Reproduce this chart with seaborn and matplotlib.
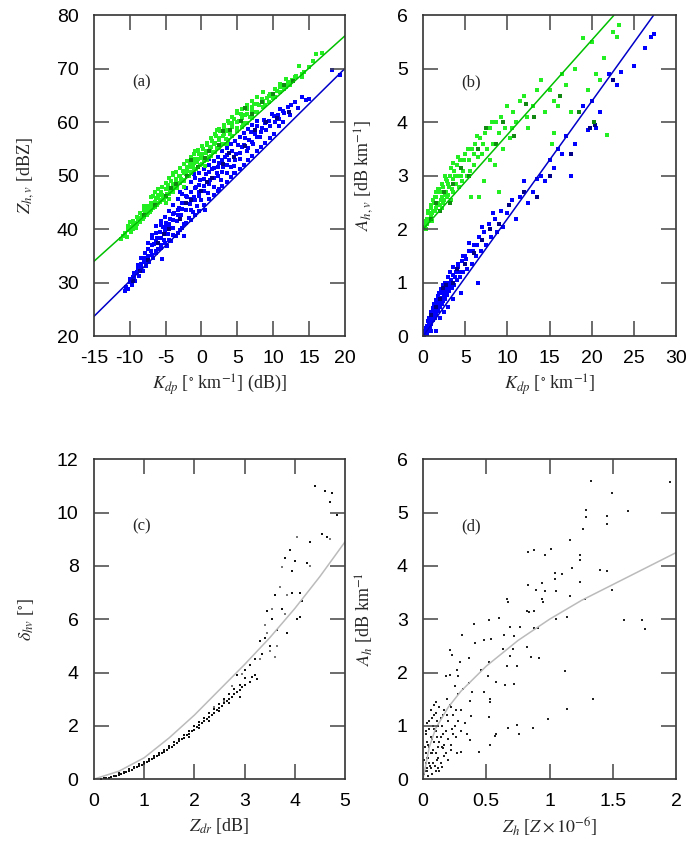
import pandas as pd
import seaborn as sns
import matplotlib.pyplot as plt
from matplotlib.ticker import FuncFormatter, MultipleLocator

# ---------------- data ----------------
# (a) Z vs Kdp
a_green = [(-11.2,38.2),(-10.9,38.8),(-10.6,39.3),(-10.4,38.6),(-10.1,40.1),(-9.8,39.5),(-9.6,40.8),(-9.3,41.2),
           (-9.1,40.3),(-8.8,42.0),(-8.6,41.4),(-8.3,42.6),(-8.1,41.9),(-7.9,43.4),(-7.6,42.7),(-7.4,44.0),
           (-7.2,43.2),(-7.0,45.0),(-6.8,43.9),(-6.6,44.8),(-6.4,45.8),(-6.2,44.5),(-6.0,46.4),(-5.8,45.2),
           (-5.6,47.0),(-5.4,46.0),(-5.2,45.5),(-5.0,47.6),(-4.8,46.6),(-4.6,48.3),(-4.4,47.2),(-4.2,49.0),
           (-4.0,46.9),(-3.8,48.0),(-3.6,49.4),(-3.4,47.8),(-3.2,50.0),(-3.0,48.6),(-2.8,49.5),(-2.6,51.0),
           (-2.4,49.0),(-2.2,50.4),(-2.0,51.6),(-1.8,49.9),(-1.6,52.3),(-1.4,50.7),(-1.2,51.8),(-1.0,53.2),
           (-0.8,51.2),(-0.6,52.6),(-0.4,54.0),(-0.2,52.0),(0.0,53.4),(0.2,55.0),(0.4,52.8),(0.6,54.3),
           (0.8,55.8),(1.0,53.6),(1.2,55.0),(1.4,56.6),(1.6,54.4),(1.8,55.9),(2.0,57.4),(2.2,55.2),
           (2.4,56.7),(2.6,58.3),(2.8,56.0),(3.0,57.5),(3.2,59.0),(3.4,56.9),(3.6,58.4),(3.8,59.8),
           (4.0,57.8),(4.3,59.2),(4.6,60.6),(4.9,58.9),(5.2,60.2),(5.5,61.6),(5.8,59.9),(6.1,61.3),
           (6.4,62.5),(6.7,61.0),(7.0,62.3),(7.3,63.5),(7.6,62.0),(8.0,63.3),(8.4,64.4),(8.8,63.2),
           (9.2,64.5),(9.6,65.3),(10.0,64.6),(10.5,65.8),(11.0,66.6),(11.5,66.2),(12.0,67.4),(12.6,68.0),
           (13.2,68.6),(13.6,70.6),(14.3,69.4),(15.0,70.3),(16.0,72.8),(16.8,73.0),(-4.5,45.7),(-2.5,47.9),
           (0.5,51.8),(3.5,55.9),(-6.8,46.2),(-3.9,50.6),(-0.9,54.6),(2.1,58.6),(5.0,62.1),
           (-10.7,39.0),(-10.3,39.8),(-10.3,40.6),(-9.9,40.4),(-9.9,41.3),(-9.5,41.6),(-9.5,40.0),(-9.0,41.0),
           (-9.0,42.3),(-8.5,41.8),(-8.5,43.0),(-8.5,42.2),(-8.0,42.3),(-8.0,43.6),(-8.0,44.3),(-7.5,43.1),
           (-7.5,44.4),(-7.5,43.6),(-7.0,43.7),(-7.0,44.3),(-7.0,46.0),(-6.5,44.2),(-6.5,45.2),(-6.5,46.9),
           (-6.0,44.9),(-6.0,45.8),(-6.0,47.6),(-5.5,45.4),(-5.5,46.4),(-5.5,48.0),(-5.0,46.0),(-5.0,48.7),
           (-5.0,45.0),(-4.5,46.6),(-4.5,47.7),(-4.5,49.6),(-4.0,47.4),(-4.0,48.5),(-4.0,50.2),(-3.5,48.0),
           (-3.5,49.0),(-3.5,50.8),(-3.0,48.6),(-3.0,49.9),(-3.0,51.4),(-2.5,49.3),(-2.5,50.6),(-2.5,52.2),
           (-2.0,50.0),(-2.0,51.0),(-2.0,52.8),(-1.5,50.6),(-1.5,51.6),(-1.5,53.5),(-1.0,51.1),(-1.0,52.4),
           (-1.0,54.0),(-0.5,51.7),(-0.5,53.2),(-0.5,54.8),(0.1,52.3),(0.1,54.0),(0.1,55.6),(0.7,53.0),
           (0.7,54.6),(0.7,56.2),(1.3,53.7),(1.3,55.4),(1.3,57.0),(1.9,54.5),(1.9,56.2),(1.9,57.8),
           (2.5,55.2),(2.5,57.0),(2.5,58.8),(3.1,56.0),(3.1,57.9),(3.1,59.5),(3.7,56.8),(3.7,58.5),
           (3.7,60.2),(4.3,57.5),(4.3,59.8),(4.3,61.0),(4.9,58.3),(4.9,60.0),(4.9,61.8),(5.6,59.1),
           (5.6,60.8),(5.6,62.6),(6.3,59.9),(6.3,61.6),(6.3,63.2),(7.0,60.8),(7.0,62.8),(7.0,64.0),
           (7.8,61.9),(7.8,63.5),(7.8,64.8),(8.6,62.8),(8.6,64.0),(8.6,65.7),(9.4,63.8),(9.4,65.0),
           (10.2,64.8),(10.2,66.2),(11.0,65.6),(11.0,67.2),(11.8,66.6),(11.8,68.2),(12.4,67.6),(12.4,67.0),
           (13.0,68.4),(14.0,69.0),(14.0,68.4),(15.5,71.4)]
a_green_dark = [(-8.0,42.6),(-6.5,44.6),(-5.0,46.3),(-3.5,48.5),(-2.0,50.0),(-0.5,51.6),(1.0,54.6),(2.5,55.8),
                (4.0,58.6),(5.5,60.3),(7.0,61.6),(8.5,63.8),(10.0,65.4),(11.5,67.0),(-1.5,52.9),(3.0,58.4),
                (6.0,62.7),(-4.2,47.7),(12.8,67.8),(0.5,53.3)]
a_blue = [(-10.7,28.4),(-10.5,29.2),(-10.2,28.9),(-10.0,30.1),(-9.7,29.6),(-9.5,31.0),(-9.2,30.4),(-9.0,32.0),
          (-8.7,31.3),(-8.5,33.0),(-8.2,32.2),(-8.0,34.0),(-7.8,33.1),(-7.5,35.0),(-7.3,33.8),(-7.0,36.0),
          (-6.8,34.6),(-6.6,37.2),(-6.4,35.5),(-6.2,38.4),(-6.0,36.3),(-5.8,39.5),(-5.6,37.1),(-5.4,40.4),
          (-5.2,38.0),(-5.0,41.2),(-4.8,36.9),(-4.6,39.2),(-4.4,42.0),(-4.2,37.8),(-4.0,40.3),(-3.8,43.0),
          (-3.6,38.8),(-3.4,41.5),(-3.2,44.0),(-3.0,39.9),(-2.8,42.6),(-2.6,45.0),(-2.4,41.0),(-2.2,43.7),
          (-2.0,46.0),(-1.8,42.1),(-1.6,44.8),(-1.4,47.0),(-1.2,43.3),(-1.0,46.0),(-0.8,48.0),(-0.6,44.4),
          (-0.4,47.0),(-0.2,49.2),(0.0,45.5),(0.3,48.1),(0.6,50.3),(0.9,46.8),(1.2,49.3),(1.5,51.3),
          (1.8,48.0),(2.1,50.5),(2.4,52.4),(2.7,49.3),(3.0,51.7),(3.3,53.5),(3.6,50.5),(3.9,52.9),
          (4.2,54.6),(4.5,51.9),(4.8,54.1),(5.1,55.8),(5.4,53.2),(5.7,55.4),(6.0,57.0),(6.3,54.6),
          (6.6,56.7),(6.9,58.2),(7.2,55.9),(7.5,57.9),(7.8,59.4),(8.1,57.3),(8.4,59.0),(8.7,60.5),
          (9.0,58.6),(9.4,60.2),(9.8,61.6),(10.2,60.0),(10.6,61.4),(11.0,62.6),(11.5,61.8),(12.0,62.8),
          (12.5,63.3),(13.0,63.9),(14.0,64.8),(15.0,64.3),(18.2,69.8),(19.3,68.8),(-1.0,50.4),(1.0,53.2),
          (3.0,56.0),(-3.0,47.0),(5.0,58.5),(-5.5,34.5),(-2.5,38.8),(0.5,43.6),(2.5,47.6),(4.5,50.5),
          (-9.9,30.8),(-9.4,31.8),(-9.4,31.0),(-8.9,32.6),(-8.9,33.4),(-8.4,33.6),(-8.4,34.6),(-8.4,32.8),
          (-7.9,33.8),(-7.9,35.5),(-7.9,34.6),(-7.4,34.6),(-7.4,36.4),(-7.4,37.5),(-6.9,35.2),(-6.9,37.0),
          (-6.9,38.3),(-6.9,39.0),(-6.3,36.0),(-6.3,37.8),(-6.3,39.3),(-6.3,40.6),(-5.7,36.6),(-5.7,38.4),
          (-5.7,40.8),(-5.7,41.6),(-5.1,37.4),(-5.1,39.6),(-5.1,42.4),(-5.1,40.5),(-4.5,38.0),(-4.5,41.0),
          (-4.5,43.4),(-4.5,40.2),(-3.9,38.9),(-3.9,41.8),(-3.9,44.5),(-3.9,42.8),(-3.3,39.4),(-3.3,42.6),
          (-3.3,45.6),(-3.3,43.6),(-2.7,40.3),(-2.7,43.8),(-2.7,46.7),(-2.7,44.9),(-2.1,41.1),(-2.1,44.9),
          (-2.1,47.8),(-2.1,46.3),(-1.5,41.8),(-1.5,45.6),(-1.5,48.8),(-1.5,43.7),(-0.9,42.6),(-0.9,45.4),
          (-0.9,49.6),(-0.9,47.8),(-0.3,43.4),(-0.3,46.2),(-0.3,50.6),(-0.3,48.3),(0.4,44.6),(0.4,47.2),
          (0.4,51.2),(0.4,49.4),(1.1,45.6),(1.1,48.4),(1.1,52.0),(1.1,50.8),(1.7,46.4),(1.7,49.6),
          (1.7,52.8),(1.7,51.4),(2.3,47.2),(2.3,50.0),(2.3,53.6),(2.3,51.6),(2.9,48.1),(2.9,50.8),
          (2.9,54.6),(2.9,52.9),(3.5,48.9),(3.5,52.1),(3.5,55.2),(3.5,53.9),(4.1,49.7),(4.1,51.6),
          (4.1,55.9),(4.7,50.5),(4.7,53.0),(4.7,56.6),(5.3,51.3),(5.3,54.3),(5.3,57.2),(5.9,52.1),
          (5.9,55.7),(5.9,58.1),(6.5,52.9),(6.5,55.2),(6.5,58.8),(7.1,53.8),(7.1,56.4),(7.1,59.6),
          (7.7,54.6),(7.7,57.2),(7.7,60.2),(8.3,55.4),(8.3,58.2),(8.9,56.2),(8.9,59.8),(9.5,57.0),
          (9.5,59.4),(10.1,57.8),(10.1,61.2),(10.8,59.3),(10.8,60.6),(11.4,60.1),(11.4,62.2),(12.3,61.3),
          (13.5,62.7),(14.5,64.2)]
a_blue_dark = [(-7.5,34.2),(-6.0,37.4),(-4.5,40.0),(-3.0,42.0),(-1.5,45.5),(0.0,47.2),(1.5,49.6),(3.0,52.3),
               (4.5,53.6),(6.0,55.6),(7.5,58.6),(9.0,60.0),(-5.2,39.2),(-2.2,44.9),(0.8,48.8),(3.8,54.3),
               (10.5,60.8),(12.2,62.0),(-8.5,32.2),(-9.5,30.3)]
a_green_fit_x = [-15, 20]
a_green_fit_y = [34.0, 76.2]
a_blue_fit_x = [-15, 20]
a_blue_fit_y = [23.7, 70.1]

# (b) A vs Kdp
b_green = [(0.2,2.05),(0.4,2.1),(0.5,2.2),(0.7,2.15),(0.8,2.3),(1.0,2.25),(1.0,2.4),(1.2,2.35),(1.3,2.5),
           (1.5,2.4),(1.6,2.6),(1.8,2.5),(2.0,2.45),(2.0,2.7),(2.2,2.6),(2.4,2.8),(2.5,2.55),(2.7,2.7),
           (2.8,2.9),(3.0,2.65),(3.0,2.85),(3.2,3.0),(3.4,2.75),(3.5,2.95),(3.7,3.1),(3.9,2.85),(4.0,3.2),
           (4.2,3.0),(4.4,3.3),(4.6,2.9),(4.8,3.1),(5.0,3.4),(5.2,3.0),(5.5,3.3),(5.8,3.5),(6.0,3.2),
           (6.2,3.6),(6.5,3.35),(6.8,3.7),(7.0,3.4),(7.3,3.8),(7.6,3.5),(8.0,3.9),(8.3,3.6),(8.7,4.0),
           (9.0,3.8),(9.3,4.1),(9.7,3.9),(10.0,4.3),(10.3,3.7),(10.7,4.2),(11.0,4.0),(11.5,4.4),(12.0,4.5),
           (12.3,4.1),(13.0,4.3),(13.5,4.6),(14.0,4.8),(14.5,4.2),(15.0,4.6),(15.5,4.4),(16.0,4.3),
           (16.5,4.9),(17.0,4.7),(17.5,4.2),(18.0,5.0),(19.0,5.57),(19.5,4.6),(20.0,5.5),(20.5,4.9),
           (21.0,4.8),(21.5,5.2),(21.8,3.76),(22.5,5.7),(23.2,5.83),(23.0,5.6),(6.6,2.6),(7.2,2.9),
           (9.0,2.7),(5.7,2.6),(8.5,3.2),(12.5,3.9),(15.3,3.6),(15.5,3.8),(0.3,2.0),(0.6,2.3),(1.1,2.15),
           (1.4,2.6),(1.9,2.75),(2.3,2.4),(2.6,3.0),(3.3,2.55),(3.6,3.25),
           (0.1,2.02),(0.3,2.15),(0.5,2.1),(0.6,2.35),(0.8,2.2),(0.9,2.45),(1.1,2.3),(1.2,2.55),(1.4,2.35),
           (1.5,2.7),(1.7,2.45),(1.8,2.75),(2.1,2.55),(2.2,2.85),(2.4,2.5),(2.6,2.65),(2.7,2.95),(2.9,2.6),
           (3.1,2.8),(3.3,3.15),(3.5,2.7),(3.8,3.0),(4.1,3.35),(4.3,2.8),(4.5,3.0),(4.9,3.3),(5.3,3.5),
           (5.6,3.1),(6.1,3.4),(6.4,3.75),(7.1,3.6),(7.9,3.3),(8.2,4.0),(9.5,3.5),(10.5,3.9)]
b_green_dark = [(1.5,2.5),(2.5,2.7),(3.5,2.85),(4.5,3.15),(5.5,3.0),(6.5,3.5),(7.5,3.9),(8.6,3.6),(9.5,4.0),
                (10.8,3.75),(12.2,4.35),(13.2,4.1),(16.2,4.5),(18.5,4.2),(20.3,4.0),(3.2,2.5),(1.0,2.2),(2.0,2.35)]
b_blue = [(0.1,0.02),(0.2,0.08),(0.3,0.05),(0.4,0.12),(0.5,0.2),(0.6,0.1),(0.7,0.25),(0.8,0.18),(0.9,0.3),
          (1.0,0.22),(1.1,0.38),(1.2,0.3),(1.3,0.45),(1.4,0.35),(1.5,0.5),(1.6,0.42),(1.7,0.6),(1.8,0.48),
          (1.9,0.65),(2.0,0.55),(2.1,0.72),(2.2,0.6),(2.3,0.8),(2.4,0.66),(2.5,0.85),(2.6,0.7),(2.8,0.9),
          (2.9,0.78),(3.0,1.0),(3.1,0.84),(3.3,1.05),(3.4,0.9),(3.6,1.15),(3.7,0.95),(3.9,1.2),(4.0,1.05),
          (4.2,1.3),(4.4,1.1),(4.6,1.4),(4.8,1.2),(5.0,1.5),(5.2,1.25),(5.5,1.6),(5.8,1.35),(6.0,1.7),
          (6.3,1.5),(6.6,1.85),(6.9,1.6),(7.2,1.95),(7.5,1.7),(7.8,2.1),(8.1,1.85),(8.5,2.2),(8.8,1.95),
          (9.2,2.35),(9.5,2.05),(10.0,2.3),(10.5,2.55),(11.0,2.2),(11.5,2.6),(12.0,2.9),(12.5,2.5),
          (13.0,2.7),(13.5,2.95),(14.0,3.0),(14.5,2.9),(15.0,3.3),(15.5,3.15),(16.0,3.5),(16.5,3.4),
          (17.0,3.75),(17.5,3.0),(18.0,3.6),(19.0,4.3),(19.5,3.85),(20.0,4.4),(20.5,3.9),(21.0,4.2),
          (22.0,4.9),(23.0,4.7),(23.5,4.95),(25.0,5.05),(26.3,5.4),(27.0,5.6),(27.4,5.65),(1.5,0.1),
          (3.0,0.55),(4.5,0.8),(6.5,1.0),(0.5,0.05),(1.0,0.1),(2.0,0.35),(2.5,0.45),(3.5,0.7),
          (0.15,0.1),(0.35,0.15),(0.45,0.06),(0.55,0.28),(0.65,0.18),(0.75,0.35),(0.85,0.25),(0.95,0.45),
          (1.05,0.3),(1.15,0.52),(1.25,0.38),(1.35,0.6),(1.45,0.45),(1.55,0.68),(1.65,0.52),(1.75,0.75),
          (1.85,0.6),(1.95,0.8),(2.05,0.62),(2.15,0.88),(2.25,0.7),(2.35,0.95),(2.55,0.78),(2.65,1.0),
          (2.85,0.82),(2.95,1.1),(3.15,0.92),(3.25,1.2),(3.45,1.0),(3.55,1.3),(3.8,1.1),(4.1,1.35),
          (4.3,1.2),(4.7,1.5),(5.1,1.45),(5.4,1.75),(5.9,1.6),(6.4,1.7),(7.0,2.05),(8.3,2.3)]
b_blue_dark = [(1.0,0.4),(2.0,0.7),(2.7,0.95),(3.5,1.0),(4.0,1.25),(5.0,1.35),(6.0,1.55),(7.0,1.8),(8.0,2.0),
               (9.0,2.1),(10.2,2.45),(12.0,2.7),(13.5,2.6),(15.0,3.0),(17.5,3.4),(19.8,3.9),(20.4,3.95),
               (22.5,4.8),(1.5,0.55),(2.4,0.9)]
b_green_fit_x = [0, 22.6]
b_green_fit_y = [2.0, 6.0]
b_blue_fit_x = [0, 27.3]
b_blue_fit_y = [0.0, 6.0]

# (c) delta_hv vs Zdr
c_black = [(0.15,0.01),(0.2,0.03),(0.25,0.04),(0.3,0.06),(0.35,0.08),(0.4,0.11),(0.45,0.13),(0.5,0.17),
           (0.55,0.2),(0.6,0.24),(0.65,0.27),(0.7,0.31),(0.75,0.36),(0.8,0.4),(0.85,0.45),(0.9,0.5),
           (0.95,0.54),(1.0,0.58),(1.05,0.64),(1.1,0.69),(1.15,0.74),(1.2,0.8),(1.25,0.86),(1.3,0.91),
           (1.35,0.97),(1.4,1.03),(1.45,1.1),(1.5,1.16),(1.55,1.22),(1.6,1.29),(1.65,1.36),(1.7,1.42),
           (1.75,1.5),(1.8,1.56),(1.85,1.64),(1.9,1.71),(1.95,1.79),(2.0,1.86),(2.05,1.94),(2.1,2.02),
           (2.15,2.1),(2.2,2.18),(2.25,2.26),(2.3,2.34),(2.35,2.42),(2.4,2.5),(2.45,2.58),(2.5,2.66),
           (2.55,2.75),(2.6,2.84),(2.65,2.92),(2.7,3.0),(2.75,3.1),(2.8,3.18),(2.85,3.27),(2.9,3.36),
           (2.95,3.45),(3.0,3.55),(0.5,0.22),(0.7,0.37),(0.9,0.56),(1.1,0.75),(1.3,0.98),(1.5,1.24),
           (1.7,1.52),(1.9,1.82),(2.1,2.14),(2.3,2.47),(2.5,2.82),(2.7,3.2),(2.9,3.55),(0.6,0.28),
           (0.8,0.46),(1.0,0.65),(1.2,0.87),(1.4,1.11),(1.6,1.38),(1.8,1.67),(2.0,1.98),(2.2,2.31),
           (2.4,2.65),(2.6,3.0),(2.8,3.38),(3.0,3.8),(1.9,1.6),(2.1,1.92),(2.3,2.2),(2.5,2.55),(2.7,2.85),
           (2.9,3.1),(3.1,3.65),(3.2,3.9),(3.25,3.75),(2.85,3.9),(3.0,4.1),(3.1,4.3),(3.15,3.85),(3.2,4.5),
           (3.3,5.2),(3.35,4.7),(3.4,5.3),(3.45,6.3),(3.5,5.0),(3.55,6.0),(3.6,6.9),(3.65,5.6),(3.75,6.4),
           (3.8,8.3),(3.85,5.5),(3.9,8.6),(3.95,7.0),(3.95,7.8),(4.0,8.2),(4.05,6.0),(4.1,6.1),(4.1,7.0),
           (4.15,6.7),(4.25,8.1),(4.3,8.9),(4.4,11.0),(4.55,9.2),(4.6,10.8),(4.65,9.1),(4.7,10.4),
           (4.75,10.75),(4.85,9.9)]
c_gray = [(3.6,4.6),(3.5,4.8),(3.4,5.8),(3.7,7.2),(3.85,6.9),(4.05,9.1),(3.75,7.95),(3.55,6.4),(3.3,4.5),
          (3.45,5.5),(2.95,3.95),(2.75,3.5),(4.3,8.0),(4.7,9.0),(3.65,5.0),(3.8,6.2),(2.6,2.95),(2.4,2.7)]
c_fit_x = [0, 0.5, 1, 1.5, 2, 2.5, 3, 3.5, 4, 4.5, 5]
c_fit_y = [0, 0.3, 0.8, 1.55, 2.4, 3.35, 4.3, 5.3, 6.4, 7.6, 8.9]

# (d) Ah vs Zh
d_black = [(1.33,5.6),(1.95,5.58),(1.49,5.36),(1.62,5.03),(1.29,5.05),(1.29,4.91),(1.45,4.93),(1.45,4.78),
           (1.26,4.69),(1.16,4.48),(0.83,4.26),(0.88,4.29),(0.96,4.21),(1.01,4.31),(1.24,4.2),(1.24,4.11),
           (1.04,3.86),(1.1,3.85),(1.18,3.96),(1.4,3.92),(1.45,3.91),(1.04,3.76),(0.94,3.68),(0.83,3.65),
           (1.05,3.52),(0.96,3.53),(0.89,3.54),(1.24,3.7),(1.16,3.43),(1.28,3.38),(1.49,3.54),(0.66,3.37),
           (0.67,3.33),(0.94,3.37),(0.95,3.33),(0.82,3.16),(0.84,3.14),(0.88,3.16),(1.05,3.0),(1.14,3.04),
           (1.59,2.98),(1.73,2.98),(1.75,2.82),(0.88,2.83),(0.91,2.83),(0.77,2.86),(0.69,2.86),(0.52,2.98),
           (0.4,2.91),(0.6,3.03),(0.31,2.7),(0.72,2.69),(0.64,2.7),(0.71,2.44),(0.63,2.44),(0.82,2.48),
           (0.69,2.31),(0.85,2.29),(0.92,2.28),(0.54,2.62),(0.48,2.61),(0.41,2.55),(0.21,2.42),(0.23,2.32),
           (0.29,2.2),(0.36,2.28),(0.52,2.19),(0.46,2.04),(0.58,1.82),(0.51,1.94),(0.65,1.76),(0.72,1.79),
           (0.74,2.12),(0.66,2.13),(0.18,1.94),(0.28,1.94),(0.36,1.8),(0.39,1.63),(0.48,1.64),(0.53,1.51),
           (0.37,1.47),(0.53,1.44),(0.3,1.3),(0.38,1.19),(1.12,2.03),(1.14,1.32),(0.99,1.12),(1.34,1.51),
           (0.87,0.96),(0.74,1.02),(0.67,0.96),(0.76,0.85),(0.57,0.81),(0.58,0.85),(0.52,1.16),(0.53,0.64),
           (0.44,0.51),(0.37,0.74),(0.3,0.51),(0.27,0.49),(0.22,0.64),(0.16,0.59),(0.17,0.43),(0.15,0.23),
           (0.01,0.1),(0.02,0.3),(0.03,0.2),(0.02,0.5),(0.04,0.4),(0.05,0.6),(0.03,0.7),(0.06,0.8),
           (0.05,0.95),(0.07,0.5),(0.08,0.3),(0.09,0.7),(0.08,1.0),(0.1,0.9),(0.11,1.1),(0.12,0.6),
           (0.1,1.25),(0.13,1.35),(0.14,0.8),(0.15,1.0),(0.16,1.2),(0.12,0.4),(0.06,0.2),(0.04,0.05),
           (0.1,0.15),(0.14,0.3),(0.18,0.9),(0.2,1.1),(0.22,1.35),(0.24,1.2),(0.19,1.5),(0.25,1.0),
           (0.26,0.8),(0.07,1.15),(0.09,1.4),(0.11,0.35),(0.02,0.85),(0.03,1.05),(0.13,0.15),(0.17,0.65),
           (0.2,0.35),(0.23,0.95),(0.28,1.1),(0.3,0.9),(0.33,1.05),(0.35,0.85),(0.28,1.6),(0.25,1.75),
           (0.32,1.7),(0.21,1.95),(0.27,2.05),
           (0.02,0.15),(0.03,0.4),(0.04,0.65),(0.05,0.3),(0.06,0.5),(0.07,0.75),(0.08,0.55),(0.09,0.95),
           (0.1,0.5),(0.11,0.8),(0.12,1.0),(0.13,0.7),(0.14,1.15),(0.15,0.6),(0.16,0.85),(0.17,1.3),
           (0.18,0.5),(0.19,1.2),(0.2,0.75),(0.21,1.4),(0.22,0.55),(0.24,0.85),(0.26,1.3),(0.01,0.35),
           (0.015,0.6),(0.025,0.9),(0.035,0.15),(0.045,1.1),(0.055,0.25),(0.065,1.3),(0.075,0.1),
           (0.085,1.2),(0.095,0.25),(0.105,1.45),(0.115,0.2)]
d_fit_x = [0, 0.05, 0.1, 0.2, 0.3, 0.5, 0.75, 1, 1.25, 1.5, 1.75, 2]
d_fit_y = [0, 0.6, 0.95, 1.35, 1.65, 2.12, 2.6, 3.0, 3.35, 3.65, 3.95, 4.25]

# ---------------- style ----------------
sns.set_style("ticks")
plt.rcParams["font.family"] = ["Liberation Sans", "DejaVu Sans"]
plt.rcParams["mathtext.fontset"] = "stix"
plt.rcParams["axes.unicode_minus"] = False
plt.rcParams["axes.edgecolor"] = "#333333"
plt.rcParams["axes.linewidth"] = 1.2

LABEL_FONT = dict(family="Liberation Serif", size=13)
TICK_COLOR = "#444444"
TICK_PX = 15


def pts(ax, pairs, color, size=8):
    df = pd.DataFrame(pairs, columns=["x", "y"])
    sns.scatterplot(data=df, x="x", y="y", ax=ax, color=color, marker="s",
                    s=size, linewidth=0, legend=False)


def fit(ax, xs, ys, color):
    sns.lineplot(x=xs, y=ys, ax=ax, color=color, lw=1.1, sort=False)


def style(ax, xlim, ylim, xstep, ystep, xlabel, ylabel, tag):
    ax.set_xlim(*xlim)
    ax.set_ylim(*ylim)
    ax.xaxis.set_major_locator(MultipleLocator(xstep))
    ax.yaxis.set_major_locator(MultipleLocator(ystep))
    fmt = FuncFormatter(lambda v, _: f"{v:g}")
    ax.xaxis.set_major_formatter(fmt)
    ax.yaxis.set_major_formatter(fmt)
    ax.tick_params(axis="both", length=0, labelsize=14, labelcolor="black")
    ax.tick_params(axis="x", pad=10)
    ax.tick_params(axis="y", pad=11)

    # inward tick marks on all four sides, gnuplot style
    bbox = ax.get_position()
    fw, fh = ax.figure.get_size_inches() * ax.figure.dpi
    lx = TICK_PX / (bbox.height * fh)
    ly = TICK_PX / (bbox.width * fw)
    xt = [v for v in ax.get_xticks() if xlim[0] < v < xlim[1]]
    yt = [v for v in ax.get_yticks() if ylim[0] < v < ylim[1]]
    kw = dict(color=TICK_COLOR, lw=1.1, zorder=5, clip_on=False)
    ax.vlines(xt, 0, lx, transform=ax.get_xaxis_transform(), **kw)
    ax.vlines(xt, 1 - lx, 1, transform=ax.get_xaxis_transform(), **kw)
    ax.hlines(yt, 0, ly, transform=ax.get_yaxis_transform(), **kw)
    ax.hlines(yt, 1 - ly, 1, transform=ax.get_yaxis_transform(), **kw)
    ax.set_xlim(*xlim)
    ax.set_ylim(*ylim)

    ax.set_xlabel(xlabel, fontdict=LABEL_FONT, labelpad=4)
    ax.set_ylabel(ylabel, fontdict=LABEL_FONT, labelpad=15)
    ax.text(0.19, 0.79, tag, transform=ax.transAxes, ha="center", va="center",
            family="Liberation Serif", size=12)


fig = plt.figure(figsize=(6.9, 8.6), dpi=100)
ax_a = fig.add_axes([0.136, 0.609, 0.364, 0.373])
ax_b = fig.add_axes([0.613, 0.609, 0.367, 0.373])
ax_c = fig.add_axes([0.136, 0.094, 0.364, 0.372])
ax_d = fig.add_axes([0.613, 0.094, 0.367, 0.372])

GREEN, GREEN_D, GREEN_L = "#22ee22", "#118811", "#00c000"
BLUE, BLUE_D, BLUE_L = "#0000ff", "#000088", "#0000c8"

# (a)
pts(ax_a, a_blue, BLUE)
pts(ax_a, a_blue_dark, BLUE_D)
pts(ax_a, a_green, GREEN)
pts(ax_a, a_green_dark, GREEN_D)
fit(ax_a, a_green_fit_x, a_green_fit_y, GREEN_L)
fit(ax_a, a_blue_fit_x, a_blue_fit_y, BLUE_L)
style(ax_a, (-15, 20), (20, 80), 5, 10,
      r"$K_{dp}$ [$^{\circ}$ km$^{-1}$] (dB)]", r"$Z_{h,v}$ [dBZ]", "(a)")

# (b)
pts(ax_b, b_blue, BLUE, 6)
pts(ax_b, b_blue_dark, BLUE_D, 6)
pts(ax_b, b_green, GREEN, 6)
pts(ax_b, b_green_dark, GREEN_D, 6)
fit(ax_b, b_green_fit_x, b_green_fit_y, GREEN_L)
fit(ax_b, b_blue_fit_x, b_blue_fit_y, BLUE_L)
style(ax_b, (0, 30), (0, 6), 5, 1,
      r"$K_{dp}$ [$^{\circ}$ km$^{-1}$]", r"$A_{h,v}$ [dB km$^{-1}$]", "(b)")

# (c)
pts(ax_c, c_black, "#111111", 4)
pts(ax_c, c_gray, "#777777", 3)
fit(ax_c, c_fit_x, c_fit_y, "#bbbbbb")
style(ax_c, (0, 5), (0, 12), 1, 2,
      r"$Z_{dr}$ [dB]", r"$\delta_{hv}$ [$^{\circ}$]", "(c)")

# (d)
pts(ax_d, d_black, "#222222", 3)
fit(ax_d, d_fit_x, d_fit_y, "#bbbbbb")
style(ax_d, (0, 2), (0, 6), 0.5, 1,
      r"$Z_h$ [$Z \times 10^{-6}$]", r"$A_h$ [dB km$^{-1}$", "(d)")

fig.savefig("out.png", dpi=100)
